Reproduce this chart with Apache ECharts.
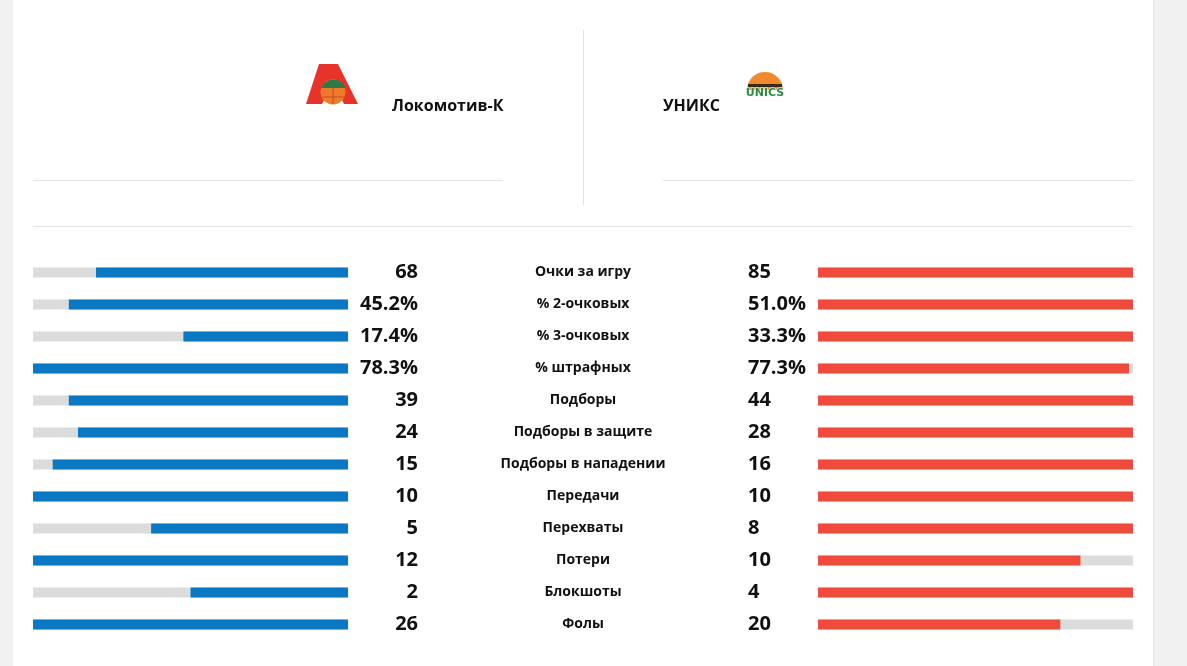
<!DOCTYPE html>
<html><head><meta charset="utf-8">
<script src="https://cdn.jsdelivr.net/npm/echarts@6/dist/echarts.min.js"></script>
<style>html,body{margin:0;padding:0;background:#f1f1f1}#c{width:1187px;height:666px}</style>
</head><body><div id="c"></div>
<script>
const categories = ['Очки за игру','% 2-очковых','% 3-очковых','% штрафных','Подборы','Подборы в защите','Подборы в нападении','Передачи','Перехваты','Потери','Блокшоты','Фолы'];
const leftValues = [68,45.2,17.4,78.3,39,24,15,10,5,12,2,26];
const rightValues = [85,51.0,33.3,77.3,44,28,16,10,8,10,4,20];
const isPercent = [false,true,true,true,false,false,false,false,false,false,false,false];
const leftTeam = 'Локомотив-К';
const rightTeam = 'УНИКС';

const fmt = (v,i) => isPercent[i] ? v.toFixed(1) + '%' : String(v);
const leftRatio = leftValues.map((v,i) => v / Math.max(v, rightValues[i]));
const rightRatio = rightValues.map((v,i) => v / Math.max(v, leftValues[i]));

const FONT = '"Open Sans", sans-serif';
const chart = echarts.init(document.getElementById('c'));
const lineCol = '#e3e3e3';
chart.setOption({
  backgroundColor: '#f1f1f1',
  animation: false,
  graphic: [
    {type:'rect', z:-10, shape:{x:12,y:0,width:1141,height:666}, style:{fill:'#ffffff'}},
    {type:'line', shape:{x1:12,y1:0,x2:12,y2:666}, style:{stroke:'#e6e6e6',lineWidth:1}},
    {type:'line', shape:{x1:1153.5,y1:0,x2:1153.5,y2:666}, style:{stroke:'#e6e6e6',lineWidth:1}},
    {type:'line', shape:{x1:33,y1:180.5,x2:503,y2:180.5}, style:{stroke:lineCol,lineWidth:1}},
    {type:'line', shape:{x1:663,y1:180.5,x2:1133,y2:180.5}, style:{stroke:lineCol,lineWidth:1}},
    {type:'line', shape:{x1:583.5,y1:30,x2:583.5,y2:205}, style:{stroke:lineCol,lineWidth:1}},
    {type:'line', shape:{x1:33,y1:226.5,x2:1133,y2:226.5}, style:{stroke:lineCol,lineWidth:1}},
    // Lokomotiv logo (approx)
    {type:'polygon', shape:{points:[[319,64],[338,64],[358,104],[344,104],[333,82],[322,104],[306,104]]}, style:{fill:'#e8332a'}},
    {type:'circle', shape:{cx:333,cy:92,r:12.5}, style:{fill:'#f07a2a'}},
    {type:'polygon', shape:{points:[[321,88],[324,83],[330,80],[338,80],[344,84],[345,88]]}, style:{fill:'#2f7a45'}},
    {type:'line', shape:{x1:322,y1:97,x2:344,y2:97}, style:{stroke:'#b8541c',lineWidth:1}},
    {type:'line', shape:{x1:333,y1:88,x2:333,y2:104}, style:{stroke:'#b8541c',lineWidth:1}},
    // UNICS logo (approx)
    {type:'sector', shape:{cx:765,cy:90,r:18,r0:0,startAngle:Math.PI,endAngle:Math.PI*2}, style:{fill:'#f08a2c'}},
    {type:'rect', shape:{x:748,y:84,width:34,height:3}, style:{fill:'#3a2a1a'}},
    {type:'text', style:{x:765,y:93,text:'UNICS',fill:'#2e8b45',stroke:'#ffffff',lineWidth:1,font:'bold 11px "DejaVu Sans"',align:'center',verticalAlign:'middle'}},
    {type:'text', style:{x:392,y:106,text:leftTeam,fill:'#111',font:'bold 16px '+FONT,verticalAlign:'middle'}},
    {type:'text', style:{x:663,y:106,text:rightTeam,fill:'#111',font:'bold 16px '+FONT,verticalAlign:'middle'}}
  ],
  grid: [
    {left:33, width:315, top:256.5, height:384},
    {left:818, width:315, top:256.5, height:384}
  ],
  xAxis: [
    {gridIndex:0, type:'value', min:0, max:1, inverse:true, show:false},
    {gridIndex:1, type:'value', min:0, max:1, show:false}
  ],
  yAxis: [
    {gridIndex:0, type:'category', data:categories, inverse:true, position:'right',
     axisLine:{show:false}, axisTick:{show:false},
     axisLabel:{margin:70, align:'right', padding:[6,0,0,0], formatter:(v,i)=>fmt(leftValues[i],i), color:'#111', fontFamily:FONT, fontWeight:'bold', fontSize:20}},
    {gridIndex:1, type:'category', data:categories, inverse:true, position:'left',
     axisLine:{show:false}, axisTick:{show:false},
     axisLabel:{margin:70, align:'left', padding:[6,0,0,0], formatter:(v,i)=>fmt(rightValues[i],i), color:'#111', fontFamily:FONT, fontWeight:'bold', fontSize:20}},
    {gridIndex:1, type:'category', data:categories, inverse:true, position:'left', offset:235,
     axisLine:{show:false}, axisTick:{show:false},
     axisLabel:{margin:0, align:'center', padding:[5,0,0,0], color:'#111', fontFamily:FONT, fontWeight:'bold', fontSize:14}}
  ],
  series: [
    {type:'bar', xAxisIndex:0, yAxisIndex:0, data:leftRatio, barWidth:10, itemStyle:{color:'#0a78c2'},
     showBackground:true, backgroundStyle:{color:'#dcdcdc'}},
    {type:'bar', xAxisIndex:1, yAxisIndex:1, data:rightRatio, barWidth:10, itemStyle:{color:'#ef4b3d'},
     showBackground:true, backgroundStyle:{color:'#dcdcdc'}}
  ]
});
</script></body></html>
